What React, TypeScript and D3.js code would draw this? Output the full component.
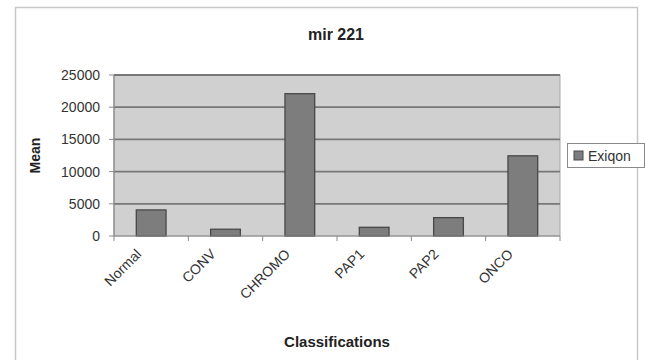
import React from "react";
import * as d3 from "d3";

const categories = ["Normal", "CONV", "CHROMO", "PAP1", "PAP2", "ONCO"];
const exiqon = [4050, 1050, 22100, 1350, 2850, 12450];
const yTicks = [0, 5000, 10000, 15000, 20000, 25000];
const seriesName = "Exiqon";
const title = "mir 221";
const xTitle = "Classifications";
const yTitle = "Mean";

export default function App() {
  const W = 645, H = 360;
  const left = 114, right = 560, top = 75, bottom = 236;
  const x = d3.scaleBand<string>().domain(categories).range([left, right]).paddingInner(0.6).paddingOuter(0.3);
  const xc = d3.scaleBand<string>().domain(categories).range([left, right]);
  const y = d3.scaleLinear().domain([0, 25000]).range([bottom, top]);
  const font = "Arial, 'Liberation Sans', sans-serif";
  return (
    <svg width={W} height={H} style={{ position: "absolute", left: 0, top: 0, background: "#fff" }} fontFamily={font}>
      <rect x={15.5} y={7.5} width={622} height={360} fill="#fff" stroke="#c8c8c8" strokeWidth={1.5} />
      <text x={336} y={40} textAnchor="middle" fontSize={16} fontWeight="bold" fill="#222">{title}</text>
      <rect x={left} y={top} width={right - left} height={bottom - top} fill="#d0d0d0" stroke="#a8a8a8" strokeWidth={1} />
      {yTicks.filter(t => t > 0).map(t => (
        <line key={t} x1={left} x2={right} y1={y(t)} y2={y(t)} stroke="#777" strokeWidth={1.8} />
      ))}
      {categories.map((c, i) => (
        <rect key={c} x={x(c)} y={y(exiqon[i])} width={x.bandwidth()} height={bottom - y(exiqon[i])} fill="#7d7d7d" stroke="#484848" strokeWidth={1.3} />
      ))}
      <line x1={left} x2={left} y1={top} y2={bottom} stroke="#8a8a8a" strokeWidth={1.2} />
      <line x1={left} x2={right} y1={bottom} y2={bottom} stroke="#8a8a8a" strokeWidth={1.2} />
      {yTicks.map(t => (
        <g key={t}>
          <line x1={left - 5} x2={left} y1={y(t)} y2={y(t)} stroke="#8a8a8a" />
          <text x={left - 14} y={y(t) + 5} textAnchor="end" fontSize={14} fill="#333">{t}</text>
        </g>
      ))}
      {[...categories.map(c => xc(c)!), right].map((v, i) => (
        <line key={i} x1={v} x2={v} y1={bottom} y2={bottom + 5} stroke="#8a8a8a" />
      ))}
      {categories.map(c => {
        const cx = xc(c)! + xc.bandwidth() / 2;
        return (
          <text key={c} transform={`translate(${cx - 9},${bottom + 19}) rotate(-45)`} textAnchor="end" fontSize={14} fill="#333">{c}</text>
        );
      })}
      <text x={(left + right) / 2} y={347} textAnchor="middle" fontSize={15} fontWeight="bold" fill="#222">{xTitle}</text>
      <text transform={`translate(40,${(top + bottom) / 2}) rotate(-90)`} textAnchor="middle" fontSize={14} fontWeight="bold" fill="#222">{yTitle}</text>
      <rect x={567.5} y={143.5} width={77} height={24} fill="#fff" stroke="#8a8a8a" />
      <rect x={574} y={151} width={9} height={9} fill="#7d7d7d" stroke="#484848" />
      <text x={588} y={160.5} fontSize={14} fill="#333">{seriesName}</text>
    </svg>
  );
}
